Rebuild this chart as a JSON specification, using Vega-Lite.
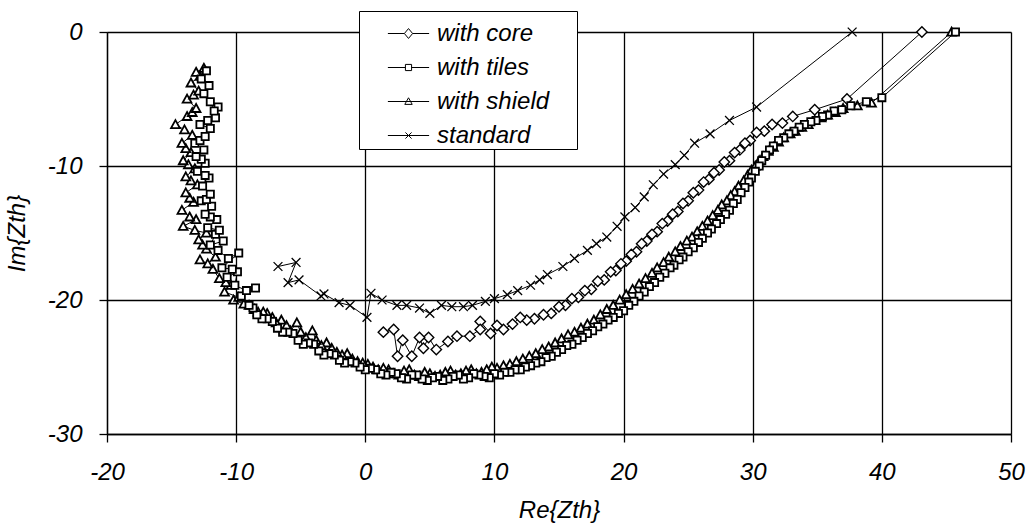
{
"$schema": "https://vega.github.io/schema/vega-lite/v6.json",
"width": 904, "height": 402,
"autosize": {"type": "none"},
"padding": {"left": 107, "top": 32, "right": 15, "bottom": 91},
"background": "white",
"config": {
  "view": {"stroke": null},
  "font": "Liberation Sans",
  "axis": {
    "domainColor": "black", "domainWidth": 1.3,
    "gridColor": "black", "gridOpacity": 1, "gridWidth": 1.3,
    "tickColor": "black", "tickSize": 8, "tickWidth": 1.3,
    "labelFont": "Liberation Sans", "labelFontStyle": "italic", "labelFontSize": 24, "labelColor": "black",
    "labelFlush": false, "labelOverlap": false, "labelBound": false,
    "titleFont": "Liberation Sans", "titleFontStyle": "italic", "titleFontWeight": "normal", "titleFontSize": 24, "titleColor": "black"
  }
},
"datasets": {
"core": [
{"x":43.1,"y":0},{"x":37.3,"y":-5.0},{"x":34.8,"y":-5.8},{"x":33.1,"y":-6.3},{"x":32.3,"y":-6.8},{"x":31.5,"y":-6.9},{"x":30.9,"y":-7.4},{"x":30.3,"y":-7.5},{"x":29.8,"y":-8.1},{"x":29.4,"y":-8.3},{"x":29.0,"y":-8.8},{"x":28.6,"y":-9.0},{"x":28.2,"y":-9.6},{"x":27.8,"y":-9.7},{"x":27.4,"y":-10.3},{"x":27.0,"y":-10.5},{"x":26.6,"y":-11.0},{"x":26.2,"y":-11.2},{"x":25.8,"y":-11.8},{"x":25.4,"y":-12.0},{"x":25.0,"y":-12.6},{"x":24.6,"y":-12.8},{"x":24.2,"y":-13.4},{"x":23.8,"y":-13.6},{"x":23.4,"y":-14.1},{"x":23.0,"y":-14.3},{"x":22.6,"y":-14.9},{"x":22.2,"y":-15.1},{"x":21.8,"y":-15.6},{"x":21.4,"y":-15.8},{"x":21.0,"y":-16.4},{"x":20.6,"y":-16.6},{"x":20.2,"y":-17.1},{"x":19.8,"y":-17.3},{"x":19.4,"y":-17.8},{"x":19.0,"y":-17.9},{"x":18.5,"y":-18.5},{"x":18.0,"y":-18.6},{"x":17.5,"y":-19.2},{"x":17.0,"y":-19.3},{"x":16.5,"y":-19.8},{"x":16.0,"y":-19.9},{"x":15.5,"y":-20.4},{"x":15.0,"y":-20.5},{"x":14.4,"y":-21.0},{"x":13.8,"y":-21.1},{"x":13.1,"y":-21.4},{"x":12.5,"y":-21.5},{"x":12.0,"y":-21.3},{"x":11.4,"y":-21.8},{"x":10.7,"y":-22.2},{"x":10.2,"y":-21.9},{"x":9.7,"y":-22.5},{"x":8.9,"y":-21.6},{"x":8.9,"y":-22.2},{"x":8.1,"y":-22.7},{"x":7.1,"y":-22.7},{"x":6.4,"y":-23.1},{"x":5.5,"y":-23.7},{"x":4.9,"y":-22.8},{"x":4.5,"y":-23.6},{"x":4.2,"y":-22.8},{"x":3.6,"y":-24.2},{"x":2.9,"y":-23.0},{"x":2.5,"y":-24.2},{"x":2.2,"y":-22.2},{"x":1.4,"y":-22.4}
],
"tiles": [
{"x":45.7,"y":0},{"x":40.0,"y":-4.9},{"x":38.8,"y":-5.2},{"x":37.6,"y":-5.5},{"x":36.9,"y":-5.8},{"x":36.3,"y":-5.9},{"x":35.8,"y":-6.2},{"x":35.4,"y":-6.3},{"x":34.9,"y":-6.6},{"x":34.5,"y":-6.7},{"x":34.0,"y":-6.9},{"x":33.6,"y":-7.1},{"x":33.2,"y":-7.4},{"x":32.8,"y":-7.6},{"x":32.4,"y":-7.9},{"x":32.0,"y":-8.1},{"x":31.6,"y":-8.5},{"x":31.3,"y":-8.8},{"x":31.0,"y":-9.2},{"x":30.7,"y":-9.6},{"x":30.5,"y":-10.0},{"x":30.2,"y":-10.4},{"x":29.9,"y":-10.9},{"x":29.7,"y":-11.2},{"x":29.4,"y":-11.6},{"x":29.1,"y":-12.0},{"x":28.8,"y":-12.5},{"x":28.5,"y":-12.8},{"x":28.2,"y":-13.3},{"x":27.9,"y":-13.6},{"x":27.5,"y":-14.0},{"x":27.2,"y":-14.3},{"x":26.8,"y":-14.7},{"x":26.5,"y":-15.0},{"x":26.1,"y":-15.4},{"x":25.8,"y":-15.7},{"x":25.4,"y":-16.1},{"x":25.0,"y":-16.4},{"x":24.6,"y":-16.8},{"x":24.3,"y":-17.0},{"x":23.9,"y":-17.4},{"x":23.6,"y":-17.6},{"x":23.2,"y":-18.0},{"x":22.8,"y":-18.3},{"x":22.4,"y":-18.7},{"x":22.0,"y":-19.0},{"x":21.6,"y":-19.4},{"x":21.2,"y":-19.7},{"x":20.8,"y":-20.1},{"x":20.4,"y":-20.4},{"x":20.0,"y":-20.8},{"x":19.6,"y":-21.0},{"x":19.2,"y":-21.3},{"x":18.8,"y":-21.5},{"x":18.4,"y":-21.8},{"x":18.0,"y":-22.0},{"x":17.6,"y":-22.3},{"x":17.2,"y":-22.5},{"x":16.8,"y":-22.8},{"x":16.4,"y":-23.0},{"x":16.0,"y":-23.3},{"x":15.6,"y":-23.4},{"x":15.2,"y":-23.7},{"x":14.8,"y":-23.9},{"x":14.4,"y":-24.2},{"x":14.0,"y":-24.3},{"x":13.6,"y":-24.6},{"x":13.2,"y":-24.7},{"x":12.8,"y":-24.9},{"x":12.4,"y":-25.0},{"x":12.0,"y":-25.2},{"x":11.6,"y":-25.2},{"x":11.2,"y":-25.4},{"x":10.8,"y":-25.4},{"x":10.4,"y":-25.6},{"x":10.0,"y":-25.5},{"x":9.6,"y":-25.8},{"x":9.2,"y":-25.7},{"x":8.8,"y":-25.6},{"x":8.4,"y":-25.5},{"x":8.0,"y":-25.8},{"x":7.6,"y":-25.9},{"x":7.2,"y":-25.6},{"x":6.8,"y":-25.7},{"x":6.4,"y":-25.9},{"x":6.0,"y":-26.0},{"x":5.6,"y":-25.7},{"x":5.2,"y":-25.8},{"x":4.8,"y":-26.0},{"x":4.4,"y":-25.9},{"x":4.0,"y":-25.6},{"x":3.6,"y":-25.6},{"x":3.2,"y":-25.9},{"x":2.8,"y":-25.8},{"x":2.4,"y":-25.5},{"x":2.0,"y":-25.4},{"x":1.6,"y":-25.6},{"x":1.2,"y":-25.5},{"x":0.8,"y":-25.2},{"x":0.4,"y":-25.1},{"x":0.0,"y":-25.2},{"x":-0.4,"y":-25.0},{"x":-0.8,"y":-24.7},{"x":-1.2,"y":-24.6},{"x":-1.6,"y":-24.7},{"x":-2.0,"y":-24.5},{"x":-2.4,"y":-24.1},{"x":-2.8,"y":-24.0},{"x":-3.2,"y":-24.1},{"x":-3.6,"y":-23.8},{"x":-4.0,"y":-23.3},{"x":-4.4,"y":-23.2},{"x":-4.8,"y":-23.3},{"x":-5.2,"y":-23.0},{"x":-5.6,"y":-22.5},{"x":-6.0,"y":-22.4},{"x":-6.4,"y":-22.4},{"x":-6.8,"y":-22.1},{"x":-7.2,"y":-21.6},{"x":-7.6,"y":-21.4},{"x":-8.0,"y":-21.4},{"x":-8.4,"y":-21.1},{"x":-8.7,"y":-20.6},{"x":-9.0,"y":-20.4},{"x":-9.6,"y":-19.7},{"x":-8.5,"y":-19.1},{"x":-9.2,"y":-19.3},{"x":-10.1,"y":-18.9},{"x":-9.9,"y":-17.9},{"x":-10.7,"y":-18.3},{"x":-10.3,"y":-17.7},{"x":-11.1,"y":-17.6},{"x":-9.8,"y":-16.5},{"x":-10.6,"y":-16.9},{"x":-11.4,"y":-16.3},{"x":-11.0,"y":-15.6},{"x":-12.0,"y":-15.9},{"x":-11.6,"y":-15.1},{"x":-11.3,"y":-14.8},{"x":-12.2,"y":-14.6},{"x":-11.5,"y":-14.0},{"x":-12.0,"y":-13.8},{"x":-12.4,"y":-13.6},{"x":-11.9,"y":-13.0},{"x":-12.7,"y":-12.6},{"x":-12.3,"y":-12.5},{"x":-12.0,"y":-12.1},{"x":-12.6,"y":-11.5},{"x":-12.1,"y":-10.9},{"x":-12.4,"y":-10.7},{"x":-13.0,"y":-10.4},{"x":-12.4,"y":-9.8},{"x":-12.7,"y":-9.5},{"x":-13.1,"y":-9.3},{"x":-12.5,"y":-8.8},{"x":-13.2,"y":-8.3},{"x":-12.8,"y":-8.1},{"x":-12.4,"y":-7.8},{"x":-12.0,"y":-7.2},{"x":-12.8,"y":-6.9},{"x":-12.2,"y":-6.6},{"x":-11.6,"y":-6.4},{"x":-11.4,"y":-5.6},{"x":-11.7,"y":-5.9},{"x":-12.0,"y":-5.2},{"x":-12.5,"y":-4.6},{"x":-12.1,"y":-4.0},{"x":-12.7,"y":-3.5},{"x":-12.3,"y":-2.9}
],
"shield": [
{"x":45.4,"y":0},{"x":39.2,"y":-5.3},{"x":38.1,"y":-5.5},{"x":37.0,"y":-5.7},{"x":36.4,"y":-6.0},{"x":35.8,"y":-6.2},{"x":35.3,"y":-6.4},{"x":34.8,"y":-6.6},{"x":34.3,"y":-6.9},{"x":33.8,"y":-7.1},{"x":33.3,"y":-7.4},{"x":32.9,"y":-7.6},{"x":32.4,"y":-7.9},{"x":32.0,"y":-8.2},{"x":31.6,"y":-8.6},{"x":31.2,"y":-8.9},{"x":30.8,"y":-9.3},{"x":30.5,"y":-9.6},{"x":30.2,"y":-10.0},{"x":29.9,"y":-10.3},{"x":29.6,"y":-10.7},{"x":29.3,"y":-11.1},{"x":28.9,"y":-11.5},{"x":28.6,"y":-11.9},{"x":28.3,"y":-12.2},{"x":28.0,"y":-12.6},{"x":27.6,"y":-12.9},{"x":27.3,"y":-13.3},{"x":26.9,"y":-13.7},{"x":26.5,"y":-14.1},{"x":26.1,"y":-14.5},{"x":25.7,"y":-14.9},{"x":25.3,"y":-15.3},{"x":24.9,"y":-15.6},{"x":24.4,"y":-16.0},{"x":24.0,"y":-16.4},{"x":23.5,"y":-16.8},{"x":23.1,"y":-17.2},{"x":22.6,"y":-17.6},{"x":22.2,"y":-18.0},{"x":21.7,"y":-18.4},{"x":21.2,"y":-18.8},{"x":20.7,"y":-19.2},{"x":20.2,"y":-19.6},{"x":19.7,"y":-20.0},{"x":19.2,"y":-20.4},{"x":18.7,"y":-20.7},{"x":18.2,"y":-21.1},{"x":17.7,"y":-21.5},{"x":17.2,"y":-21.8},{"x":16.7,"y":-22.1},{"x":16.2,"y":-22.4},{"x":15.7,"y":-22.6},{"x":15.2,"y":-22.9},{"x":14.7,"y":-23.2},{"x":14.2,"y":-23.5},{"x":13.7,"y":-23.7},{"x":13.2,"y":-24.0},{"x":12.7,"y":-24.2},{"x":12.2,"y":-24.4},{"x":11.7,"y":-24.6},{"x":11.2,"y":-24.8},{"x":10.7,"y":-24.9},{"x":10.2,"y":-25.1},{"x":9.8,"y":-25.0},{"x":9.4,"y":-25.2},{"x":9.0,"y":-25.4},{"x":8.6,"y":-25.5},{"x":8.2,"y":-25.2},{"x":7.8,"y":-25.3},{"x":7.4,"y":-25.5},{"x":7.0,"y":-25.6},{"x":6.6,"y":-25.3},{"x":6.2,"y":-25.4},{"x":5.8,"y":-25.6},{"x":5.4,"y":-25.7},{"x":5.0,"y":-25.5},{"x":4.6,"y":-25.4},{"x":4.2,"y":-25.7},{"x":3.8,"y":-25.6},{"x":3.4,"y":-25.2},{"x":3.0,"y":-25.3},{"x":2.6,"y":-25.6},{"x":2.2,"y":-25.5},{"x":1.8,"y":-25.2},{"x":1.4,"y":-25.1},{"x":1.0,"y":-25.2},{"x":0.6,"y":-25.0},{"x":0.2,"y":-24.8},{"x":-0.2,"y":-24.7},{"x":-0.6,"y":-24.6},{"x":-1.0,"y":-24.4},{"x":-1.4,"y":-24.0},{"x":-1.8,"y":-24.1},{"x":-2.2,"y":-23.9},{"x":-2.6,"y":-23.6},{"x":-3.0,"y":-23.2},{"x":-3.4,"y":-23.4},{"x":-3.8,"y":-23.0},{"x":-4.1,"y":-22.3},{"x":-4.6,"y":-22.8},{"x":-5.0,"y":-22.4},{"x":-5.3,"y":-21.7},{"x":-5.8,"y":-22.3},{"x":-6.1,"y":-21.9},{"x":-6.5,"y":-21.5},{"x":-6.9,"y":-21.7},{"x":-7.2,"y":-21.3},{"x":-7.6,"y":-21.0},{"x":-7.9,"y":-20.9},{"x":-8.3,"y":-20.9},{"x":-8.6,"y":-20.7},{"x":-9.0,"y":-20.4},{"x":-9.4,"y":-20.3},{"x":-10.2,"y":-20.0},{"x":-9.8,"y":-19.8},{"x":-10.9,"y":-19.4},{"x":-10.4,"y":-18.9},{"x":-10.8,"y":-18.7},{"x":-11.3,"y":-18.4},{"x":-11.8,"y":-17.7},{"x":-12.8,"y":-17.0},{"x":-12.2,"y":-17.3},{"x":-11.6,"y":-16.8},{"x":-12.3,"y":-16.2},{"x":-12.6,"y":-15.9},{"x":-12.9,"y":-15.5},{"x":-12.3,"y":-15.0},{"x":-13.2,"y":-14.8},{"x":-14.1,"y":-14.5},{"x":-13.1,"y":-14.0},{"x":-13.6,"y":-13.8},{"x":-14.2,"y":-13.3},{"x":-13.3,"y":-12.7},{"x":-13.6,"y":-12.4},{"x":-13.9,"y":-12.0},{"x":-13.0,"y":-11.4},{"x":-13.5,"y":-11.1},{"x":-13.9,"y":-10.8},{"x":-13.2,"y":-10.2},{"x":-13.7,"y":-9.9},{"x":-14.1,"y":-9.6},{"x":-13.5,"y":-9.0},{"x":-13.9,"y":-8.7},{"x":-14.2,"y":-8.3},{"x":-13.4,"y":-7.7},{"x":-14.0,"y":-7.3},{"x":-14.7,"y":-6.9},{"x":-13.8,"y":-6.3},{"x":-13.4,"y":-6.0},{"x":-13.1,"y":-5.7},{"x":-13.8,"y":-5.0},{"x":-13.3,"y":-4.7},{"x":-12.9,"y":-4.4},{"x":-13.5,"y":-3.8},{"x":-12.8,"y":-3.3},{"x":-13.1,"y":-3.0},{"x":-12.5,"y":-2.7}
],
"standard": [
{"x":37.7,"y":0},{"x":30.3,"y":-5.6},{"x":28.2,"y":-6.6},{"x":26.7,"y":-7.6},{"x":25.5,"y":-8.3},{"x":24.7,"y":-9.2},{"x":24.0,"y":-9.9},{"x":23.1,"y":-10.6},{"x":22.3,"y":-11.4},{"x":21.6,"y":-12.3},{"x":20.9,"y":-13.1},{"x":20.1,"y":-13.8},{"x":19.5,"y":-14.5},{"x":18.7,"y":-15.3},{"x":17.9,"y":-15.8},{"x":17.2,"y":-16.3},{"x":16.2,"y":-16.9},{"x":15.3,"y":-17.5},{"x":14.1,"y":-18.1},{"x":13.5,"y":-18.5},{"x":12.8,"y":-18.9},{"x":11.8,"y":-19.3},{"x":11.0,"y":-19.6},{"x":10.0,"y":-19.9},{"x":9.3,"y":-20.1},{"x":8.3,"y":-20.4},{"x":7.6,"y":-20.5},{"x":6.7,"y":-20.5},{"x":5.9,"y":-20.4},{"x":5.0,"y":-21.0},{"x":4.2,"y":-20.6},{"x":3.2,"y":-20.4},{"x":2.45,"y":-20.4},{"x":1.3,"y":-20.0},{"x":0.44,"y":-19.5},{"x":0.13,"y":-21.3},{"x":-1.18,"y":-20.4},{"x":-2.03,"y":-20.2},{"x":-3.2,"y":-19.55},{"x":-3.43,"y":-19.7},{"x":-5.13,"y":-18.5},{"x":-5.98,"y":-18.7},{"x":-5.36,"y":-17.2},{"x":-6.76,"y":-17.5}
]
},
"encoding": {
  "x": {"field": "x", "type": "quantitative",
        "scale": {"domain": [-20, 50], "nice": false, "zero": false},
        "axis": {"title": "Re{Zth}", "values": [-20,-10,0,10,20,30,40,50], "labelPadding": 18, "titlePadding": 14, "labelExpr": "'' + datum.value"}},
  "y": {"field": "y", "type": "quantitative",
        "scale": {"domain": [-30, 0], "nice": false, "zero": false},
        "axis": {"title": "Im{Zth}", "values": [-30,-20,-10,0], "labelPadding": 17, "titlePadding": 18, "labelExpr": "'' + datum.value"}}
},
"layer": [
  {"data": {"name": "core"}, "layer": [
    {"mark": {"type": "line", "color": "black", "strokeWidth": 1}, "encoding": {"order": {"value": null}}},
    {"mark": {"type": "point", "shape": "M0,-1.3L1.3,0L0,1.3L-1.3,0Z", "filled": true, "fill": "white", "stroke": "black", "strokeWidth": 1.4, "size": 64, "opacity": 1}}
  ]},
  {"data": {"name": "standard"}, "layer": [
    {"mark": {"type": "line", "color": "black", "strokeWidth": 1}, "encoding": {"order": {"value": null}}},
    {"mark": {"type": "point", "shape": "M-1.1,-1.1L1.1,1.1M-1.1,1.1L1.1,-1.1", "filled": false, "color": "black", "strokeWidth": 1.3, "size": 64, "opacity": 1}}
  ]},
  {"data": {"name": "shield"}, "layer": [
    {"mark": {"type": "line", "color": "black", "strokeWidth": 1}, "encoding": {"order": {"value": null}}},
    {"mark": {"type": "point", "shape": "M0,-1.1L1.1,0.9H-1.1Z", "filled": true, "fill": "white", "stroke": "black", "strokeWidth": 1.8, "size": 64, "opacity": 1}}
  ]},
  {"data": {"name": "tiles"}, "layer": [
    {"mark": {"type": "line", "color": "black", "strokeWidth": 1}, "encoding": {"order": {"value": null}}},
    {"mark": {"type": "point", "shape": "M-0.9,-0.9H0.9V0.9H-0.9Z", "filled": true, "fill": "white", "stroke": "black", "strokeWidth": 1.8, "size": 64, "opacity": 1}}
  ]},
  {"data": {"values": [{"s": "with core", "x": 999, "y": 999}, {"s": "with tiles", "x": 999, "y": 999}, {"s": "with shield", "x": 999, "y": 999}, {"s": "standard", "x": 999, "y": 999}]},
   "transform": [{"filter": "datum.x < 100"}],
   "mark": {"type": "point", "filled": false, "color": "black", "strokeWidth": 1, "size": 1700, "opacity": 1},
   "encoding": {"shape": {"field": "s", "type": "nominal",
      "scale": {"domain": ["with core","with tiles","with shield","standard"],
                "range": ["M-1,0H-0.2M0.2,0H1M0,-0.24L0.2,0L0,0.24L-0.2,0Z", "M-1,0H-0.15M0.15,0H1M-0.15,-0.15H0.15V0.15H-0.15Z", "M-1,0H1M0,-0.18L0.18,0.14H-0.18Z", "M-1,0H1M-0.15,-0.15L0.15,0.15M-0.15,0.15L0.15,-0.15"]},
      "legend": {"title": null, "orient": "none", "legendX": 252, "legendY": -21,
                 "padding": 1, "rowPadding": -6, "symbolOffset": 27, "labelOffset": 7,
                 "strokeColor": "black", "fillColor": "white",
                 "symbolSize": 1700, "symbolStrokeWidth": 1, "symbolStrokeColor": "black",
                 "labelFont": "Liberation Sans", "labelFontStyle": "italic", "labelFontSize": 24, "labelColor": "black",
                 "labelLimit": 300,
                 "labelExpr": "datum.label + '\u00a0\u00a0\u00a0\u00a0\u200b'"}}}}
]
}
